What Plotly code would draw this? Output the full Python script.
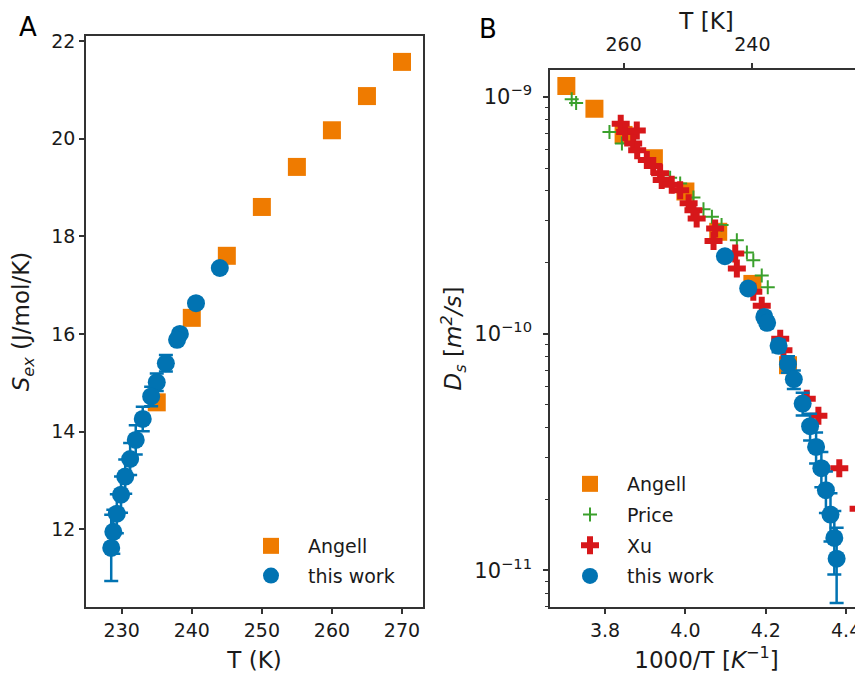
import plotly.graph_objects as go

# ---------------- data ----------------
# Panel A : excess entropy vs T
angell_T = [235, 240, 245, 250, 255, 260, 265, 270]
angell_S = [14.6, 16.33, 17.6, 18.6, 19.42, 20.17, 20.87, 21.57]
angell_D = [7.35e-11, 1.62e-10, 2.69e-10, 3.98e-10, 5.5e-10, 6.9e-10, 8.9e-10, 1.11e-9]

work_T = [244.0, 240.6, 238.3, 237.9, 236.3, 235.0, 234.2, 233.0, 232.0, 231.2,
          230.5, 229.9, 229.3, 228.8, 228.5]
work_S = [17.35, 16.63, 16.0, 15.88, 15.40, 15.01, 14.72, 14.26, 13.83, 13.44,
          13.08, 12.71, 12.32, 11.95, 11.62]
work_S_err = [0.05, 0.05, 0.06, 0.06, 0.17, 0.18, 0.2, 0.25, 0.3, 0.33,
              0.35, 0.37, 0.4, 0.45, 0.68]
work_D = [2.12e-10, 1.55e-10, 1.175e-10, 1.11e-10, 8.87e-11, 7.42e-11, 6.41e-11,
          5.06e-11, 4.06e-11, 3.32e-11, 2.70e-11, 2.18e-11, 1.72e-11, 1.37e-11, 1.12e-11]
work_D_relerr = [0.03, 0.03, 0.05, 0.05, 0.06, 0.08, 0.09, 0.11, 0.13, 0.15,
                 0.17, 0.2, 0.23, 0.3, 0.35]

# Panel B : self-diffusion vs 1000/T
price_x = [3.717, 3.728, 3.811, 3.842, 3.905, 3.962, 3.987, 4.020, 4.045, 4.066,
           4.090, 4.128, 4.153, 4.169, 4.190, 4.205]
price_D = [9.75e-10, 9.4e-10, 7.1e-10, 6.35e-10, 5.3e-10, 4.55e-10, 4.3e-10, 3.75e-10,
           3.35e-10, 3.11e-10, 2.87e-10, 2.48e-10, 2.2e-10, 2.04e-10, 1.76e-10, 1.57e-10]

xu_x = [3.839, 3.850, 3.879, 3.870, 3.880, 3.904, 3.920, 3.937, 3.941, 3.966, 3.987,
        4.008, 4.020, 4.028, 4.074, 4.070, 4.124, 4.128, 4.169, 4.190, 4.236, 4.244,
        4.302, 4.331, 4.383, 4.431]
xu_D = [7.7e-10, 7.1e-10, 7.2e-10, 6.35e-10, 5.95e-10, 5.4e-10, 5.1e-10, 4.75e-10,
        4.45e-10, 4.25e-10, 4.03e-10, 3.55e-10, 3.32e-10, 3.06e-10, 2.78e-10, 2.46e-10,
        2.18e-10, 1.88e-10, 1.50e-10, 1.31e-10, 9.5e-11, 8.5e-11, 5.3e-11, 4.5e-11,
        2.7e-11, 1.82e-11]

topT_ticks = [260, 240]
A_xticks = [230, 240, 250, 260, 270]
A_yticks = [12, 14, 16, 18, 20, 22]
B_xticks = [3.8, 4.0, 4.2, 4.4]
B_yticks = [1e-11, 1e-10, 1e-9]
B_yticktext = ["10<sup>−11</sup>", "10<sup>−10</sup>", "10<sup>−9</sup>"]
B_yminor = [m * 10.0 ** e for e in (-12, -11, -10, -9) for m in range(2, 10)]

# ---------------- style ----------------
BLUE = "#0173b2"
ORANGE = "#ef7b00"
GREEN = "#3aa02c"
RED = "#d7171a"
AX = "#333333"
TXT = "#1a1a1a"
FONT = "DejaVu Sans"

# the page places the figure 8 px from the window's top-left corner
OFF = 8
W, H = 863 - OFF, 673 - OFF


def px(x):   # window x pixel -> paper fraction
    return (x - OFF) / W


def py(y):   # window y pixel -> paper fraction (from bottom)
    return 1 - (y - OFF) / H


inv = lambda T: [1000.0 / t for t in T]

fig = go.Figure()

# Panel A
fig.add_trace(go.Scatter(x=angell_T, y=angell_S, mode="markers", name="Angell",
                         marker=dict(symbol="square", size=18, color=ORANGE, line_width=0),
                         xaxis="x", yaxis="y", legend="legend", legendgroup="a1"))
fig.add_trace(go.Scatter(x=work_T, y=work_S, mode="markers", name="this work",
                         marker=dict(symbol="circle", size=18, color=BLUE, line_width=0),
                         error_y=dict(type="data", array=work_S_err, color=BLUE,
                                      thickness=2.5, width=7),
                         xaxis="x", yaxis="y", legend="legend", legendgroup="a2"))

# Panel B
fig.add_trace(go.Scatter(x=inv(angell_T), y=angell_D, mode="markers", name="Angell",
                         marker=dict(symbol="square", size=18, color=ORANGE, line_width=0),
                         xaxis="x2", yaxis="y2", legend="legend2", legendgroup="b1"))
fig.add_trace(go.Scatter(x=price_x, y=price_D, mode="markers", name="Price",
                         marker=dict(symbol="cross-thin", size=10,
                                     line=dict(color=GREEN, width=2)),
                         xaxis="x2", yaxis="y2", legend="legend2", legendgroup="b2"))
fig.add_trace(go.Scatter(x=xu_x, y=xu_D, mode="markers", name="Xu",
                         marker=dict(symbol="cross", size=15, color=RED, line_width=0),
                         xaxis="x2", yaxis="y2", legend="legend2", legendgroup="b3"))
fig.add_trace(go.Scatter(x=inv(work_T), y=work_D, mode="markers", name="this work",
                         marker=dict(symbol="circle", size=18, color=BLUE, line_width=0),
                         error_y=dict(type="data",
                                      array=[d * r for d, r in zip(work_D, work_D_relerr)],
                                      color=BLUE, thickness=2.5, width=7),
                         xaxis="x2", yaxis="y2", legend="legend2", legendgroup="b4"))
# invisible trace carrying the top temperature axis
fig.add_trace(go.Scatter(x=inv(topT_ticks), y=[5e-10, 5e-10], mode="markers",
                         marker=dict(opacity=0), showlegend=False, hoverinfo="skip",
                         xaxis="x3", yaxis="y2"))

tick_common = dict(ticks="outside", ticklen=5, tickwidth=1.5, tickcolor=AX,
                   showline=True, linecolor=AX, linewidth=1.5, showgrid=False,
                   zeroline=False, automargin=False)
tf = dict(size=19, color=TXT)

XB_RANGE = [3.663, 4.442]

fig.update_layout(
    width=W, height=H,
    margin=dict(l=0, r=0, t=0, b=0, autoexpand=False),
    paper_bgcolor="white", plot_bgcolor="white",
    font=dict(family=FONT, size=19, color=TXT),
    xaxis=dict(domain=[px(86), px(423)], range=[224.9, 273.0], tickvals=A_xticks,
               mirror=True, title=dict(text="T (K)", standoff=16), anchor="y",
               tickfont=tf, **tick_common),
    yaxis=dict(domain=[py(607), py(36)], range=[10.41, 22.1], tickvals=A_yticks,
               mirror=True, title=dict(text="<i>S<sub>ex</sub></i> (J/mol/K)", standoff=17),
               anchor="x", tickfont=tf, **tick_common),
    xaxis2=dict(domain=[px(550), 1.0], range=XB_RANGE, tickvals=B_xticks,
                tickformat=".1f", title=dict(text="1000/T [<i>K</i><sup>−1</sup>]", standoff=16),
                anchor="y2", tickfont=tf, **tick_common),
    yaxis2=dict(domain=[py(607), py(70)], type="log", range=[-11.155, -8.887],
                tickvals=B_yticks, ticktext=B_yticktext, ticklabelstandoff=7,
                minor=dict(tickvals=B_yminor, ticks="outside", ticklen=3, tickwidth=1.2,
                           tickcolor=AX),
                title=dict(text="<i>D<sub>s</sub></i> [<i>m<sup>2</sup>/s</i>]", standoff=6),
                anchor="x2", tickfont=dict(size=21, color=TXT), **tick_common),
    xaxis3=dict(overlaying="x2", side="top", range=XB_RANGE, anchor="y2",
                tickvals=inv(topT_ticks), ticktext=[str(t) for t in topT_ticks],
                ticklabelstandoff=5,
                title=dict(text="T [K]", standoff=2), tickfont=tf, **tick_common),
    legend=dict(x=px(234), y=py(527), xanchor="left", yanchor="top",
                bgcolor="rgba(0,0,0,0)", font=dict(size=19), itemwidth=64,
                tracegroupgap=2),
    legend2=dict(x=px(553), y=py(465), xanchor="left", yanchor="top",
                 bgcolor="rgba(0,0,0,0)", font=dict(size=19), itemwidth=64,
                 tracegroupgap=3),
    annotations=[
        dict(text="A", x=px(28), y=py(27), xref="paper", yref="paper",
             xanchor="center", yanchor="middle",
             showarrow=False, font=dict(size=26, color="black")),
        dict(text="B", x=px(488), y=py(29), xref="paper", yref="paper",
             xanchor="center", yanchor="middle",
             showarrow=False, font=dict(size=26, color="black")),
    ],
)

fig.write_html("out.html")
